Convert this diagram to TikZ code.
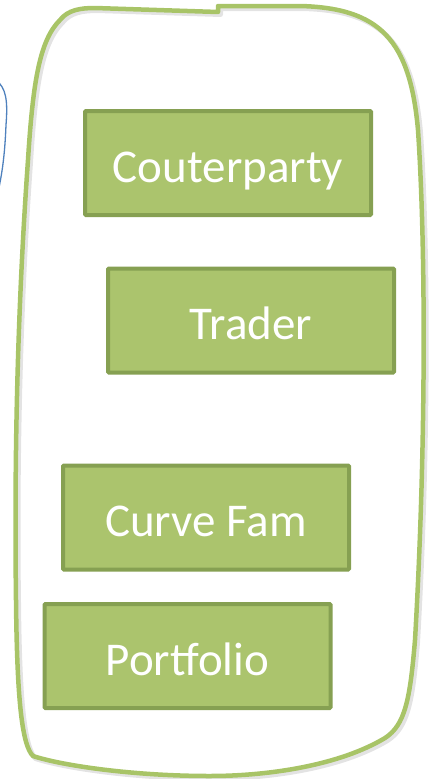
\documentclass[tikz,border=0pt]{standalone}
\usepackage{fontspec}
\setmainfont{Carlito}
\begin{document}
\definecolor{boxfill}{HTML}{ABC46D}
\definecolor{boxline}{HTML}{86A052}
\definecolor{hull}{HTML}{A8C467}
\definecolor{bluish}{HTML}{4F81BD}
\begin{tikzpicture}[x=1pt,y=-1pt,
  entity/.style={draw=boxline, fill=boxfill, line width=4pt, rounded corners=1pt,
    minimum width=286pt, minimum height=104pt, inner sep=0pt,
    text=white, font=\fontsize{47}{52}\selectfont,
    text height=38pt, text depth=0pt},
  hullline/.style={draw=hull, line width=4.5pt, line join=round},
  hullshadow/.style={draw=black!18, line width=5pt, line join=round}]
\useasboundingbox (0,0) rectangle (433,779);

% outline of the group, drawn first as a soft shadow and then in green
\def\hullpath{(218,6) -- (300,6)
  .. controls (380,8) and (410,40) .. (418,130)
  .. controls (426,250) and (426,450) .. (415,640)
  .. controls (410,700) and (405,725) .. (385,738)
  .. controls (340,765) and (270,776) .. (210,776)
  .. controls (130,776) and (60,765) .. (33,756)
  .. controls (22,745) and (17,700) .. (16,600)
  .. controls (14,450) and (18,300) .. (28,160)
  .. controls (33,80) and (40,40) .. (60,20)
  .. controls (68,10) and (80,8) .. (95,8)
  -- (218,12) -- cycle}
\path[hullshadow, opacity=0.6] [shift={(2.5,2.5)}] \hullpath;
\path[hullline] \hullpath;

% edge of the neighbouring blue shape
\coordinate (bs) at (-4,80);
\coordinate (be) at (-2,192);
\draw[bluish, line width=1.3pt] (bs) .. controls (6,88) and (8,100) .. (6,125)
  .. controls (5,150) and (3,170) .. (be);

\node[entity] (counterparty) at (228,163) {Couterparty};
\node[entity] (trader) at (251,320.5) {Trader};
\node[entity] (curvefam) at (206,517.5) {Curve Fam};
\node[entity] (portfolio) at (187.5,656) {Portfolio};
\end{tikzpicture}
\end{document}
